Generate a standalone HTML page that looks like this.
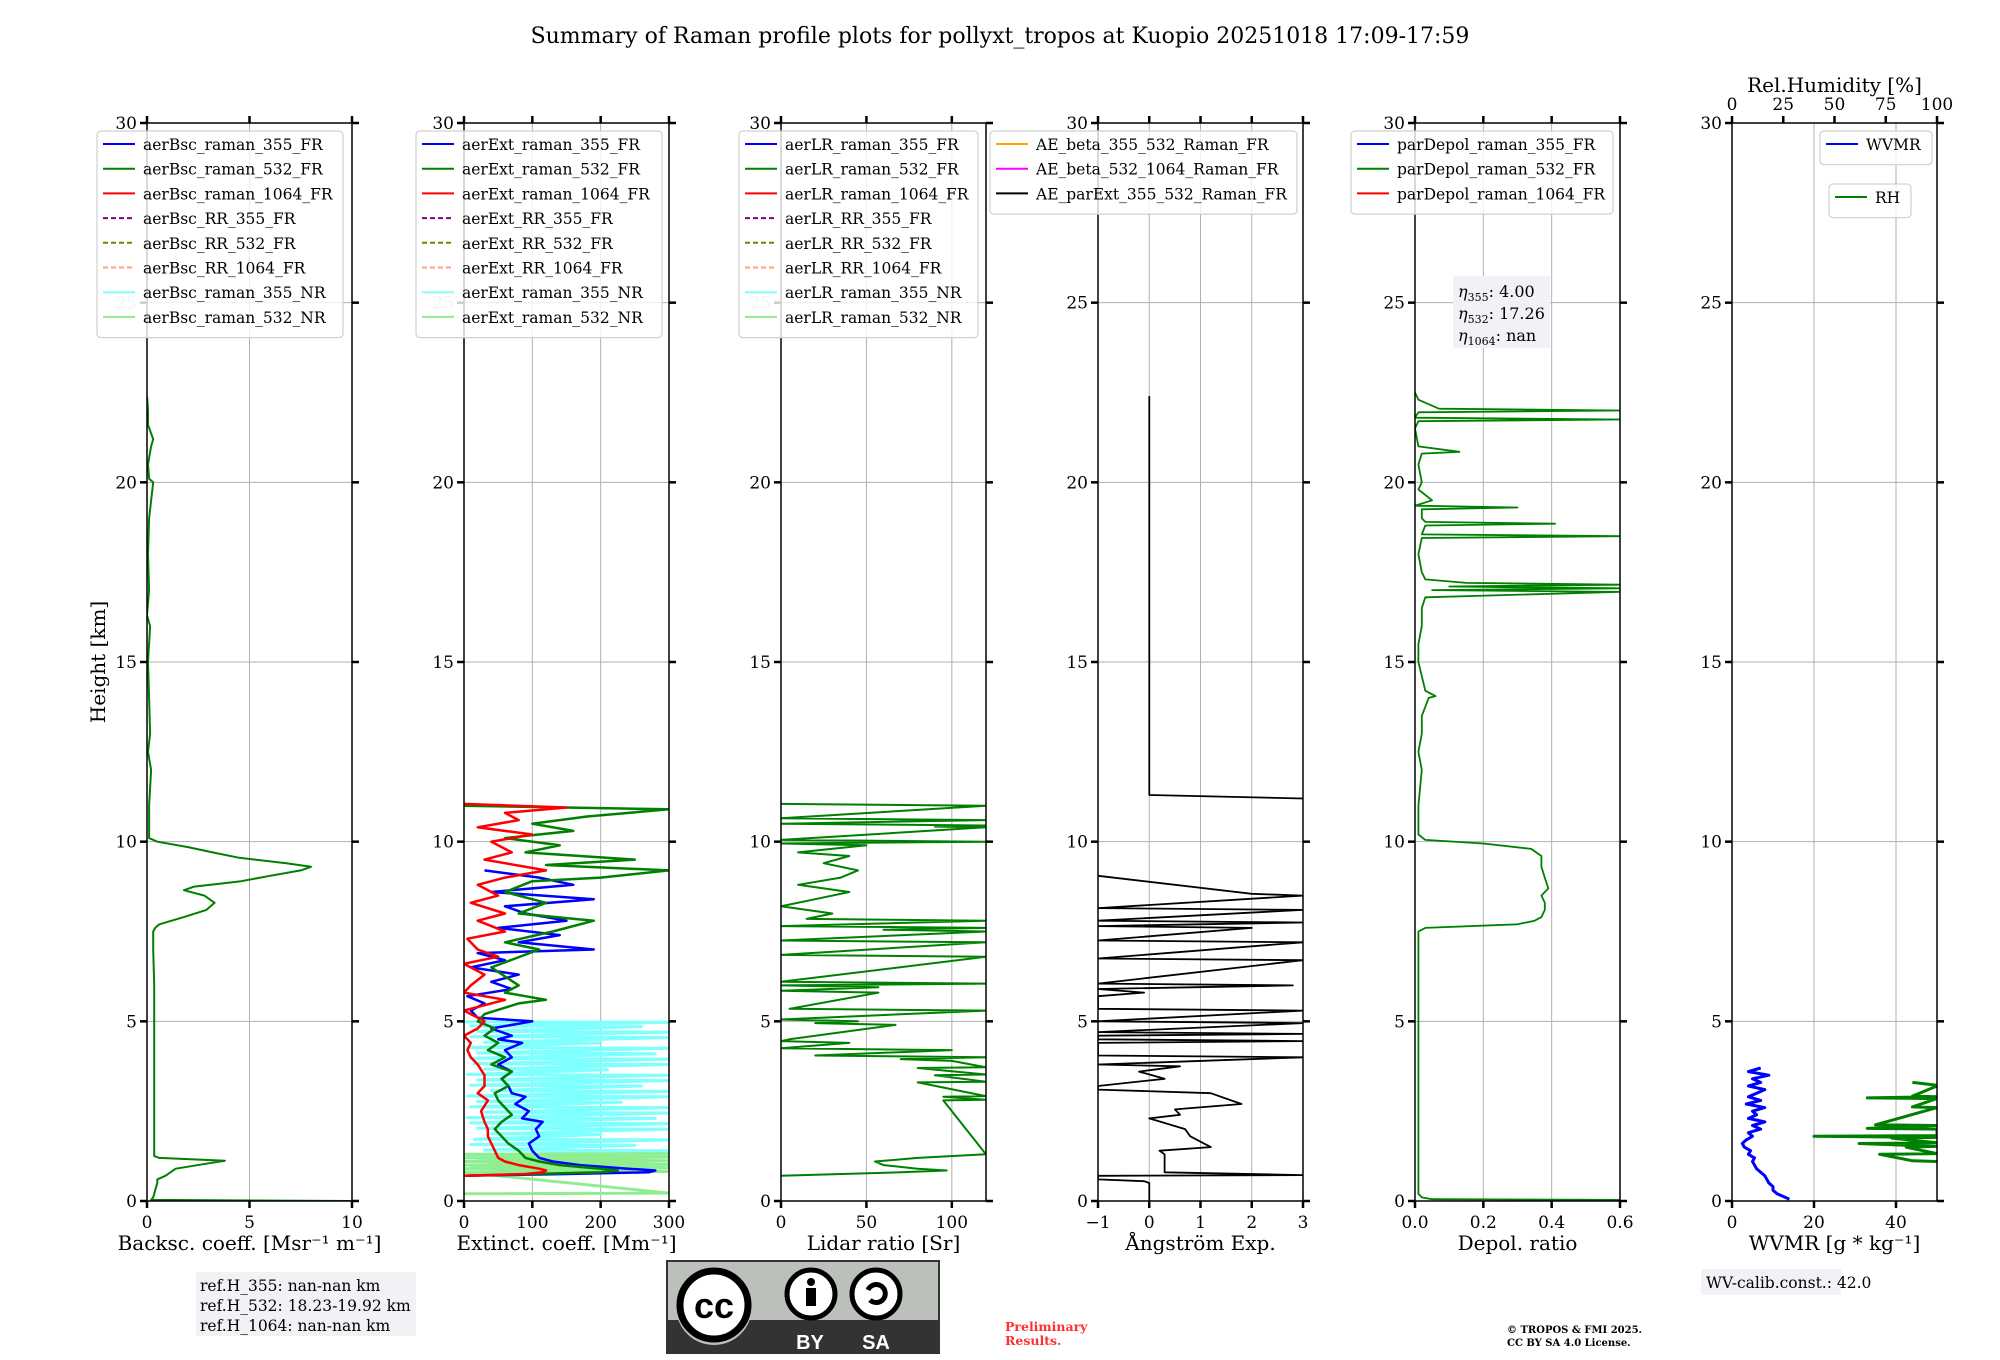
<!DOCTYPE html>
<html><head><meta charset="utf-8"><style>
html,body{margin:0;padding:0;background:#fff;}
svg{display:block;font-family:"DejaVu Serif","Liberation Serif",serif;}
</style></head><body>
<svg id="fig" width="2000" height="1360" viewBox="0 0 2000 1360" xmlns="http://www.w3.org/2000/svg"></svg>
<script>
// ---------------- data ----------------
const heightTicks=[0,5,10,15,20,25,30];
// Panel 1 backscatter 532 FR
const bsc532H=[0,0.03,0.1,0.3,0.5,0.6,0.7,0.9,1.05,1.12,1.2,1.25,2,3,4,5,6,7,7.5,7.6,7.7,7.9,8.1,8.3,8.5,8.65,8.75,8.9,9.05,9.2,9.3,9.4,9.55,9.7,9.85,10.0,10.1,10.3,11,12,12.5,13,14,15,16,16.3,17,18,19,20,20.1,20.5,21,21.2,21.6,22,22.4];
const bsc532V=[10,0.2,0.3,0.4,0.5,0.5,0.9,1.4,3.0,3.8,0.6,0.35,0.35,0.35,0.35,0.35,0.35,0.3,0.3,0.4,0.6,1.8,2.9,3.3,2.8,1.8,2.3,4.6,6.0,7.5,8.0,6.8,4.5,3.2,2.0,0.5,0.1,0.1,0.1,0.2,0.05,0.15,0.1,0.05,0.15,0.0,0.1,0.05,0.1,0.3,0.1,0.05,0.2,0.3,0.05,0.05,0.0];
// Panel 2 extinction
const ext355H=[0.7,0.75,0.8,0.85,0.9,1.0,1.1,1.2,1.4,1.6,1.8,2.0,2.2,2.3,2.5,2.7,2.9,3.0,3.2,3.4,3.6,3.8,4.0,4.2,4.4,4.5,4.6,4.8,5.0,5.1,5.3,5.5,5.7,5.9,6.1,6.3,6.5,6.7,6.9,7.0,7.2,7.4,7.6,7.8,8.0,8.2,8.4,8.6,8.8,9.0,9.2];
const ext355V=[0,150,270,280,240,170,130,110,100,95,110,105,115,85,95,75,90,70,65,55,70,50,70,60,85,50,70,40,100,20,10,30,5,70,40,80,10,60,20,190,80,140,50,150,90,60,190,40,160,110,30];
const ext532H=[0.7,0.75,0.8,0.85,0.9,1.0,1.1,1.2,1.4,1.6,1.8,2.0,2.2,2.4,2.6,2.8,3.0,3.2,3.4,3.6,3.8,4.0,4.2,4.4,4.6,4.8,5.0,5.2,5.5,5.6,5.8,6.0,6.5,7.0,7.2,7.5,7.8,8.0,8.3,8.6,8.9,9.0,9.2,9.35,9.5,9.7,9.9,10.1,10.3,10.5,10.7,10.9,11.0];
const ext532V=[0,100,200,225,200,140,110,90,80,65,55,45,55,70,60,50,45,65,55,70,40,60,35,50,30,45,20,30,80,120,60,80,40,110,60,130,190,80,120,60,100,200,300,120,250,90,140,60,160,100,180,300,0];
const ext1064H=[0.7,0.75,0.8,0.85,0.9,1.0,1.1,1.2,1.4,1.6,1.8,2.0,2.2,2.5,2.8,3.0,3.2,3.5,3.8,4.0,4.2,4.4,4.6,4.8,5.0,5.2,5.3,5.5,5.6,5.8,6.0,6.3,6.6,6.8,7.0,7.3,7.5,7.8,8.0,8.3,8.5,8.8,9.0,9.2,9.5,9.7,10.0,10.2,10.4,10.6,10.8,10.95,11.05];
const ext1064V=[0,90,115,120,110,80,60,50,45,40,35,35,30,25,35,20,30,30,20,10,5,10,0,20,30,10,0,40,60,0,10,30,0,50,20,5,60,20,60,10,50,20,60,120,30,70,40,100,20,80,60,150,0];
const ext355nrH=[0.95,0.97,1.1,1.12,1.25,1.27,1.4,1.42,1.55,1.57,1.7,1.72,1.85,1.87,2.0,2.02,2.15,2.17,2.3,2.32,2.45,2.47,2.6,2.62,2.75,2.77,2.9,2.92,3.05,3.07,3.2,3.22,3.35,3.37,3.5,3.52,3.65,3.67,3.8,3.82,3.95,3.97,4.1,4.12,4.25,4.27,4.4,4.42,4.55,4.57,4.7,4.72,4.85,4.87,4.97,4.99];
const ext355nrV=[300,10,260,20,300,5,300,30,250,10,300,15,200,40,300,20,300,10,280,5,300,30,300,10,230,20,300,5,300,40,260,10,300,20,300,5,210,30,300,15,300,10,280,20,300,5,200,30,300,10,300,20,260,10,300,0];
const ext532nrH=[0.2,0.22,0.8,0.82,0.9,0.92,1.0,1.02,1.1,1.12,1.2,1.22,1.3,1.32];
const ext532nrV=[0,300,0,300,0,300,0,300,0,300,0,300,0,300];
// Panel 3 lidar ratio 532 (null = gap)
const lr532H=[0.7,0.8,0.85,0.9,1.0,1.1,1.2,1.3,2.8,2.82,2.9,2.92,3.3,3.32,3.5,3.52,3.7,3.72,3.9,3.95,4.0,4.05,4.2,4.25,4.4,4.45,4.5,4.9,4.95,5.0,5.05,5.3,5.35,5.8,5.85,5.95,6.0,6.05,6.1,6.8,6.85,7.2,7.25,7.5,7.55,7.6,7.65,7.8,7.85,8.0,8.2,8.4,8.6,8.8,9.0,9.2,9.4,9.6,9.7,9.9,9.95,10.0,10.05,10.4,10.42,10.45,10.5,10.6,10.65,11.0,11.05];
const lr532V=[0,70,97,80,60,55,80,120,95,120,95,120,80,120,90,120,80,120,100,70,120,20,100,0,40,0,5,67,20,45,0,120,5,57,0,57,0,120,0,120,0,120,0,120,60,120,0,120,15,30,0,20,40,10,35,45,25,40,10,50,0,120,0,120,90,120,0,120,0,120,0];
// Panel 4 Angstrom exponent (null = gap)
const aeH=[0,0.5,0.55,0.6,0.7,0.72,0.8,1.3,1.4,1.5,1.8,2.0,2.3,2.4,2.55,2.7,3.0,3.1,3.2,3.4,3.6,3.75,3.8,4.0,4.05,4.4,4.45,4.5,4.6,4.65,4.7,4.95,5.0,5.3,5.35,5.7,5.8,5.9,6.0,6.05,6.7,6.75,7.2,7.25,7.6,7.65,7.75,7.8,8.1,8.15,8.5,8.55,9.05,9.1,11.2,11.3,22.4];
const aeV=[0,0,-0.1,-1,-1,3,0.3,0.3,0.2,1.2,0.8,0.7,0.0,0.6,0.5,1.8,1.2,-1,-1,0.3,-0.2,0.6,-1,3,-1,-1,3,-1,-1,3,-1,3,-1,3,-1,-1,-0.1,-1,2.8,-1,3,-1,3,-1,2.0,-1,3,-1,3,-1,3,2.0,-1,null,3,0,0];
// Panel 5 depolarisation ratio 532
const dep532H=[0.03,0.05,0.1,0.2,0.3,0.5,1,3,5,7,7.5,7.6,7.7,7.8,7.9,8.1,8.3,8.5,8.7,9.0,9.3,9.6,9.8,9.95,10.05,10.2,11,12,12.5,13,13.5,14.0,14.05,14.2,15,15.5,16,16.5,16.8,16.95,17.0,17.05,17.1,17.15,17.2,17.3,17.5,18,18.45,18.5,18.55,18.8,18.85,18.9,19.0,19.25,19.3,19.35,19.5,19.8,20,20.5,20.8,20.85,21,21.5,21.7,21.75,21.8,21.95,22.0,22.05,22.3,22.5];
const dep532V=[0.6,0.05,0.02,0.01,0.01,0.01,0.01,0.01,0.01,0.01,0.01,0.03,0.3,0.35,0.37,0.38,0.38,0.37,0.39,0.38,0.37,0.37,0.34,0.2,0.03,0.01,0.01,0.02,0.01,0.02,0.02,0.04,0.06,0.03,0.01,0.01,0.02,0.02,0.03,0.6,0.05,0.6,0.1,0.6,0.15,0.03,0.02,0.01,0.02,0.6,0.02,0.03,0.41,0.03,0.02,0.02,0.3,0.0,0.05,0.01,0.02,0.01,0.02,0.13,0.01,0.0,0.01,0.6,0.0,0.01,0.6,0.07,0.01,0.0];
// Panel 6 water vapour
const wvH=[0.05,0.1,0.2,0.3,0.4,0.5,0.7,0.9,1.1,1.2,1.3,1.4,1.5,1.6,1.7,1.8,1.9,2.0,2.1,2.2,2.3,2.4,2.5,2.6,2.7,2.8,2.9,3.0,3.1,3.2,3.3,3.4,3.5,3.6,3.7];
const wvV=[14,13,11,10,10,9,8,6,5,5.5,4,4.5,3,2.5,3.5,5,4,7,5,8,4,6,5,8,3.5,7,4,6,8,4,7,5,9,4,7];
const rhH=[1.1,1.12,1.3,1.32,1.5,1.52,1.6,1.62,1.75,1.77,1.8,1.82,2.0,2.02,2.1,2.12,2.6,2.62,2.85,2.87,2.9,2.92,3.2,3.22,3.3];
const rhV=[100,88,72,100,85,100,62,100,78,100,40,100,100,66,100,70,100,88,100,66,100,88,100,100,88];
// tick labels
const bscTicks=[0,5,10], extTicks=[0,100,200,300], lrTicks=[0,50,100], aeTicks=[-1,0,1,2,3];
const depTicks=[0,0.2,0.4,0.6], depTickLabels=["0.0","0.2","0.4","0.6"], wvTicks=[0,20,40], rhTicks=[0,25,50,75,100];

// ---------------- drawing ----------------
const NS="http://www.w3.org/2000/svg";
const svg=document.getElementById('fig');
const TOP=123, BOT=1201, PW=205;
const PX=[147,464,781,1098,1415,1732];
function y(h){return BOT-(h/30)*(BOT-TOP);}
function mk(tag,attrs,parent){const e=document.createElementNS(NS,tag);for(const k in attrs)e.setAttribute(k,attrs[k]);(parent||svg).appendChild(e);return e;}
function txt(s,x0,y0,size,anchor,parent,extra){const t=mk('text',Object.assign({x:x0,y:y0,'font-size':size,'text-anchor':anchor||'start',fill:'#000'},extra||{}),parent);t.textContent=s;return t;}

const axes=[
 {min:0,max:10,ticks:bscTicks,labels:null,xlabel:'Backsc. coeff. [Msr\u207B\u00B9 m\u207B\u00B9]',name:'backscatter'},
 {min:0,max:300,ticks:extTicks,labels:null,xlabel:'Extinct. coeff. [Mm\u207B\u00B9]',name:'extinction'},
 {min:0,max:120,ticks:lrTicks,labels:null,xlabel:'Lidar ratio [Sr]',name:'lidar-ratio'},
 {min:-1,max:3,ticks:aeTicks,labels:['\u22121','0','1','2','3'],xlabel:'\u00C5ngstr\u00F6m Exp.',name:'angstrom'},
 {min:0,max:0.6,ticks:depTicks,labels:depTickLabels,xlabel:'Depol. ratio',name:'depol'},
 {min:0,max:50,ticks:wvTicks,labels:null,xlabel:'WVMR [g * kg\u207B\u00B9]',name:'wvmr'}
];
function xs(i,v){const a=axes[i];return PX[i]+(v-a.min)/(a.max-a.min)*PW;}

const title=txt('Summary of Raman profile plots for pollyxt_tropos at Kuopio 20251018 17:09-17:59',1000,43,22,'middle');



axes.forEach((a,i)=>{
  const g=mk('g',{});
  
  
  const x0=PX[i],x1=PX[i]+PW;
  a.ticks.forEach(t=>{const gx=xs(i,t);mk('line',{x1:gx,x2:gx,y1:TOP,y2:BOT,stroke:'#b0b0b0','stroke-width':1},g);});
  heightTicks.forEach(h=>{mk('line',{x1:x0,x2:x1,y1:y(h),y2:y(h),stroke:'#b0b0b0','stroke-width':1},g);});
  const d=mk('clipPath',{id:'clip'+i});
  mk('rect',{x:PX[i],y:TOP,width:PW,height:BOT-TOP},d);
  a.g=g;
});

function series(i,H,V,color,w,name,scaleFn){
  const segs=[];let cur=[];
  H.forEach((h,k)=>{
    if(V[k]===null){if(cur.length)segs.push(cur);cur=[];return;}
    cur.push((scaleFn?scaleFn(V[k]):xs(i,V[k])).toFixed(1)+','+y(h).toFixed(1));
  });
  if(cur.length)segs.push(cur);
  segs.forEach(s=>{
    const p=mk('polyline',{points:s.join(' '),fill:'none',stroke:color,'stroke-width':w,'stroke-linejoin':'round','clip-path':'url(#clip'+i+')'},axes[i].g);
    
    
  });
}
mk('line',{x1:xs(0,0),x2:xs(0,0),y1:TOP,y2:BOT,stroke:'#999','stroke-width':1},axes[0].g);
series(0,bsc532H,bsc532V,'green',2,'aerbsc-532-fr-line');
series(1,ext355nrH,ext355nrV,'#80ffff',3,'aerext-355-nr-line');
series(1,ext532nrH,ext532nrV,'#90ee90',3,'aerext-532-nr-line');
series(1,ext355H,ext355V,'blue',2.5,'aerext-355-fr-line');
series(1,ext532H,ext532V,'green',2.5,'aerext-532-fr-line');
series(1,ext1064H,ext1064V,'red',2.5,'aerext-1064-fr-line');
series(2,lr532H,lr532V,'green',2,'aerlr-532-fr-line');
series(3,aeH,aeV,'black',1.8,'ae-parext-355-532-line');
series(4,dep532H,dep532V,'green',1.8,'pardepol-532-fr-line');
series(5,wvH,wvV,'blue',3,'wvmr-line');
series(5,rhH,rhV,'green',3,'rh-line',v=>PX[5]+v/100*PW);

axes.forEach((a,i)=>{
  const g=a.g,x0=PX[i],x1=PX[i]+PW;
  mk('rect',{x:x0,y:TOP,width:PW,height:BOT-TOP,fill:'none',stroke:'#000','stroke-width':1.5},g);
  heightTicks.forEach(h=>{
    mk('line',{x1:x0-7,x2:x0,y1:y(h),y2:y(h),stroke:'#000','stroke-width':2.5},g);
    mk('line',{x1:x1,x2:x1+7,y1:y(h),y2:y(h),stroke:'#000','stroke-width':2.5},g);
    const lab=txt(String(h),x0-10,y(h)+6,17,'end',g,(h===25&&i<3)?{fill:'#c8c8c8'}:{});
    
    
  });
  a.ticks.forEach((t,k)=>{
    const gx=xs(i,t);
    mk('line',{x1:gx,x2:gx,y1:BOT,y2:BOT+7,stroke:'#000','stroke-width':2.5},g);
    if(i!==5)mk('line',{x1:gx,x2:gx,y1:TOP-7,y2:TOP,stroke:'#000','stroke-width':2.5},g);
    const lab=txt(a.labels?a.labels[k]:String(t),gx,BOT+27,17,'middle',g);
    
    
  });
  const xl=txt(a.xlabel,x0+PW/2,1250,20,'middle',g);
  
  
});
rhTicks.forEach(t=>{
  const gx=PX[5]+t/100*PW;
  mk('line',{x1:gx,x2:gx,y1:TOP-7,y2:TOP,stroke:'#000','stroke-width':2.5});
  const l=txt(String(t),gx,TOP-13,17,'middle');
  
  
});
const rht=txt('Rel.Humidity [%]',PX[5]+PW/2,92,20,'middle');


const ylab=txt('Height [km]',0,0,20,'middle',svg,{transform:'translate(105,662) rotate(-90)'});



function legend(x0,y0,w,items,name,rowH){
  rowH=rowH||24.7;
  const g=mk('g',{});
  
  
  mk('rect',{x:x0,y:y0,width:w,height:items.length*rowH+9,rx:4,fill:'rgba(255,255,255,0.8)',stroke:'#d0d0d0','stroke-width':1.2},g);
  items.forEach((it,k)=>{
    const cy=y0+13+k*rowH;
    mk('line',{x1:x0+6,x2:x0+38,y1:cy,y2:cy,stroke:it[1],'stroke-width':2,'stroke-dasharray':it[2]?'5,3':'none'},g);
    const t=txt(it[0],x0+46,cy+6,15.5,'start',g);
    
    
  });
}
const cols=[['blue'],['green'],['red'],['purple',1],['olive',1],['lightsalmon',1],['#80ffff'],['#90ee90']];
const suf=['raman_355_FR','raman_532_FR','raman_1064_FR','RR_355_FR','RR_532_FR','RR_1064_FR','raman_355_NR','raman_532_NR'];
legend(97,131,246,suf.map((s,k)=>['aerBsc_'+s,cols[k][0],cols[k][1]]),'backscatter-legend');
legend(416,131,246,suf.map((s,k)=>['aerExt_'+s,cols[k][0],cols[k][1]]),'extinction-legend');
legend(739,131,239,suf.map((s,k)=>['aerLR_'+s,cols[k][0],cols[k][1]]),'lidar-ratio-legend');
legend(990,131,307,[['AE_beta_355_532_Raman_FR','orange'],['AE_beta_532_1064_Raman_FR','magenta'],['AE_parExt_355_532_Raman_FR','black']],'angstrom-legend');
legend(1351,131,262,[['parDepol_raman_355_FR','blue'],['parDepol_raman_532_FR','green'],['parDepol_raman_1064_FR','red']],'depol-legend');
legend(1820,131,112,[['WVMR','blue']],'wvmr-legend');
legend(1829,184,82,[['RH','green']],'rh-legend');

const eg=mk('g',{});


mk('rect',{x:1453,y:276,width:97,height:72,fill:'#f1f2f6'},eg);
[['355','4.00'],['532','17.26'],['1064','nan']].forEach((r,k)=>{
  const t=mk('text',{x:1458,y:297+k*22,'font-size':16},eg);
  t.innerHTML='<tspan font-style="italic">\u03B7</tspan><tspan font-size="11" dy="4">'+r[0]+'</tspan><tspan dy="-4">: '+r[1]+'</tspan>';
});
const rg=mk('g',{});


mk('rect',{x:196,y:1272,width:220,height:64,fill:'#f1f2f6'},rg);
['ref.H_355: nan-nan km','ref.H_532: 18.23-19.92 km','ref.H_1064: nan-nan km'].forEach((s,k)=>txt(s,200,1291+k*20,15.5,'start',rg));
const wg=mk('g',{});


mk('rect',{x:1701,y:1269,width:140,height:26,fill:'#f1f2f6'},wg);
txt('WV-calib.const.: 42.0',1706,1288,15.5,'start',wg);
const cg=mk('g',{});


mk('rect',{x:667,y:1261,width:272,height:92,fill:'#bcc0bb',stroke:'#333','stroke-width':2},cg);
mk('rect',{x:667,y:1320,width:272,height:33,fill:'#333'},cg);
mk('circle',{cx:714,cy:1307,r:38,fill:'#bcc0bb'},cg);
mk('circle',{cx:714,cy:1305,r:34,fill:'#fff',stroke:'#000','stroke-width':7},cg);
txt('cc',714,1318,36,'middle',cg,{'font-family':'Liberation Sans, sans-serif','font-weight':'bold'});
mk('circle',{cx:811,cy:1294,r:24,fill:'#fff',stroke:'#000','stroke-width':5},cg);
mk('circle',{cx:811,cy:1282,r:4,fill:'#000'},cg);
mk('rect',{x:806,y:1288,width:10,height:18,fill:'#000'},cg);
mk('circle',{cx:876,cy:1294,r:24,fill:'#fff',stroke:'#000','stroke-width':5},cg);
mk('path',{d:'M868 1290 A9 9 0 1 1 870 1300',fill:'none',stroke:'#000','stroke-width':5},cg);
txt('BY',810,1349,20,'middle',cg,{fill:'#fff','font-family':'Liberation Sans, sans-serif','font-weight':'bold'});
txt('SA',876,1349,20,'middle',cg,{fill:'#fff','font-family':'Liberation Sans, sans-serif','font-weight':'bold'});
const p1=txt('Preliminary',1005,1331,12.5,'start',svg,{fill:'#ff3030','font-weight':'bold'});


txt('Results.',1005,1345,12.5,'start',svg,{fill:'#ff3030','font-weight':'bold'});
const cp=txt('\u00A9 TROPOS & FMI 2025.',1507,1333,10,'start',svg,{'font-weight':'bold'});


txt('CC BY SA 4.0 License.',1507,1346,10,'start',svg,{'font-weight':'bold'});
</script>
</body></html>
